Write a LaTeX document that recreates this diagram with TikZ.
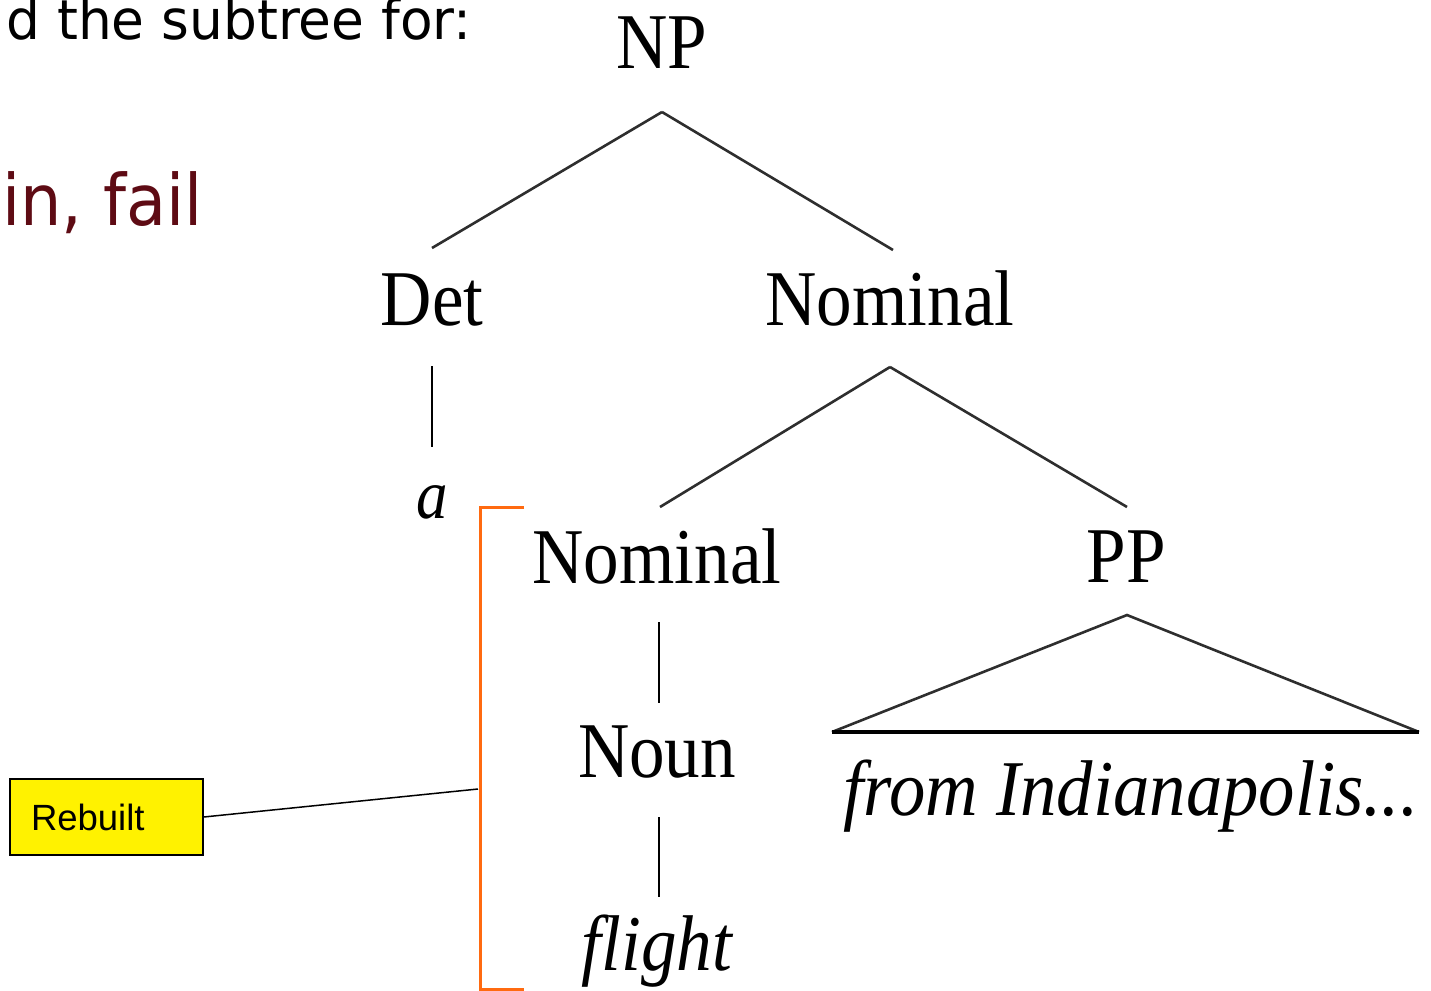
\documentclass[tikz,border=0pt]{standalone}
\usepackage{graphicx}
\usepackage{fontspec}
\newfontfamily\slidefont{DejaVu Sans}
\newfontfamily\notefont{Liberation Sans}
\newfontfamily\treefont{Liberation Serif}
\definecolor{darkred}{HTML}{5E0B14}
\definecolor{bracketorange}{HTML}{FF6A10}
\definecolor{treegray}{HTML}{2E2E2E}
\newcommand{\tn}[1]{\scalebox{0.9}[1]{#1}}
\tikzset{
  cat/.style={anchor=base, inner sep=0pt, font=\treefont\fontsize{79}{79}\selectfont},
  word/.style={anchor=base, inner sep=0pt, font=\treefont\fontsize{79}{79}\selectfont\itshape},
  branch/.style={draw=treegray, line width=2.6pt},
  unary/.style={draw=black, line width=2.2pt},
  bracket/.style={draw=bracketorange, line width=3pt},
  callout/.style={draw=black, line width=1.5pt, fill=yellow, rectangle,
    minimum width=193pt, minimum height=76pt, inner xsep=21pt, text width=151pt,
    align=left, font=\notefont\fontsize{36.5}{36.5}\selectfont},
}
\begin{document}
\begin{tikzpicture}[x=1pt,y=-1pt]
\useasboundingbox (0,0) rectangle (1431,990);
% slide text
\node[anchor=base east, inner sep=0pt, font=\slidefont\fontsize{55}{55}\selectfont] (head) at (472,40) {\scalebox{0.97}[1]{d the subtree for:}};
\node[anchor=base west, inner sep=0pt, text=darkred, font=\slidefont\fontsize{71}{71}\selectfont] (fail) at (2,225) {\scalebox{0.92}[1]{in, fail}};
% tree nodes
\node[cat] (NP) at (662,68) {\tn{NP}};
\node[cat] (Det) at (432,325) {\tn{Det}};
\node[cat] (Nom1) at (890,325) {\tn{Nominal}};
\node[word, font=\treefont\fontsize{70}{70}\selectfont\itshape] (a) at (432,518) {\tn{a}};
\node[cat] (Nom2) at (657,583) {\tn{Nominal}};
\node[cat] (PP) at (1126,582) {\tn{PP}};
\node[cat] (Noun) at (657,777) {\tn{Noun}};
\node[word] (flight) at (657,970) {\tn{flight}};
\node[word] (from) at (1131,815) {\scalebox{0.92}[1]{from Indianapolis...}};
% attachment points
\coordinate (NPs) at ([yshift=-44pt]NP.base);
\coordinate (Detn) at ([yshift=77pt]Det.base);
\coordinate (Dets) at ([yshift=-41pt]Det.base);
\coordinate (Nom1n) at ([xshift=3pt,yshift=75pt]Nom1.base);
\coordinate (Nom1s) at ([yshift=-42pt]Nom1.base);
\coordinate (an) at ([yshift=71pt]a.base);
\coordinate (Nom2n) at ([xshift=3pt,yshift=76pt]Nom2.base);
\coordinate (Nom2s) at ([xshift=2pt,yshift=-39pt]Nom2.base);
\coordinate (PPn) at ([xshift=1pt,yshift=75pt]PP.base);
\coordinate (PPs) at ([xshift=1pt,yshift=-33pt]PP.base);
\coordinate (Nounn) at ([xshift=2pt,yshift=74pt]Noun.base);
\coordinate (Nouns) at ([xshift=2pt,yshift=-40pt]Noun.base);
\coordinate (flightn) at ([xshift=2pt,yshift=73pt]flight.base);
\coordinate (triL) at (832,732);
\coordinate (triR) at (1419,732);
% branches
\draw[branch] (NPs) -- (Detn);
\draw[branch] (NPs) -- (Nom1n);
\draw[unary] (Dets) -- (an);
\draw[branch] (Nom1s) -- (Nom2n);
\draw[branch] (Nom1s) -- (PPn);
\draw[unary] (Nom2s) -- (Nounn);
\draw[unary] (Nouns) -- (flightn);
\draw[branch] (triL) -- (PPs) -- (triR);
\draw[draw=black, line width=3.2pt] (triL) -- (triR);
% bracket and callout
\coordinate (brT) at (524,507);
\coordinate (brB) at (524,989);
\draw[bracket] (brT) -- (480,507) -- (480,989) -- (brB);
\coordinate (brM) at (478,789);
\node[callout] (rebuilt) at (106.5,817) {Rebuilt};
\draw[black, line width=1.5pt] (rebuilt.east) -- (brM);
\end{tikzpicture}
\end{document}
